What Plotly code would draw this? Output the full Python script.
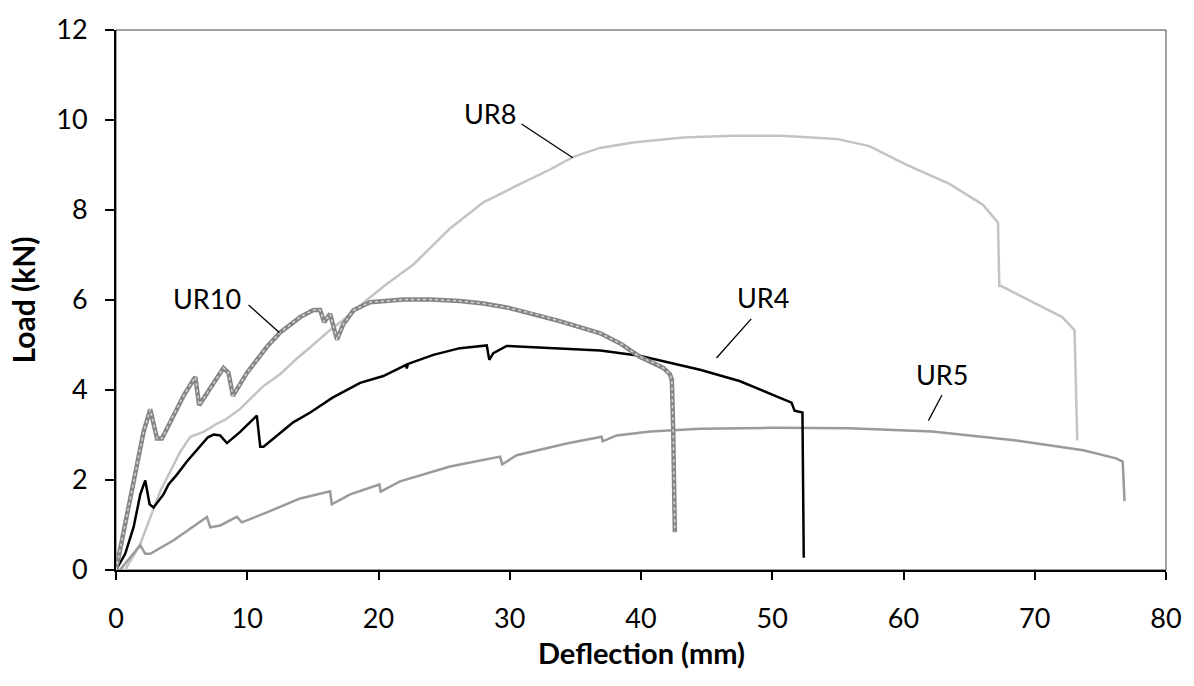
import plotly.graph_objects as go

# ---------------- data ----------------
ur4_x = [0, 0.7, 1.34, 1.72, 1.85, 2.23, 2.56, 2.86, 3.24, 3.62, 4.0, 4.64, 5.4, 6.42, 7.0, 7.43,
         7.94, 8.45, 9.46, 10.73, 10.99, 11.24, 12.5, 13.5, 14.8, 16.5, 18.6, 20.37, 22.1, 22.15,
         22.25, 24.18, 26.2, 28.25, 28.44, 28.75, 29.77, 33.8, 36.9, 39.9, 42.0, 44.5, 47.5, 49.3,
         51.47, 51.7, 52.3, 52.4]
ur4_y = [0, 0.36, 0.95, 1.46, 1.68, 1.99, 1.46, 1.39, 1.53, 1.68, 1.90, 2.12, 2.41, 2.77, 2.95, 3.01,
         2.99, 2.82, 3.07, 3.43, 2.74, 2.74, 3.03, 3.28, 3.50, 3.83, 4.16, 4.31, 4.56, 4.48,
         4.58, 4.78, 4.93, 4.99, 4.67, 4.82, 4.98, 4.93, 4.88, 4.76, 4.62, 4.45, 4.20, 3.98,
         3.72, 3.54, 3.50, 0.27]

ur5_x = [0.3, 1.0, 1.85, 2.23, 2.61, 4.39, 6.93, 7.18, 7.94, 9.21, 9.59, 11.5, 14.03, 16.31, 16.44,
         17.84, 20.07, 20.17, 21.64, 25.45, 29.26, 29.43, 30.53, 34.34, 37.0, 37.08, 38.14, 40.7,
         44.5, 50.0, 55.9, 62.2, 68.6, 73.7, 76.2, 76.7, 76.84]
ur5_y = [0, 0.25, 0.55, 0.36, 0.36, 0.66, 1.18, 0.95, 0.99, 1.18, 1.06, 1.28, 1.59, 1.75, 1.46,
         1.68, 1.90, 1.74, 1.97, 2.30, 2.52, 2.35, 2.55, 2.81, 2.96, 2.86, 2.99, 3.08,
         3.14, 3.16, 3.15, 3.08, 2.88, 2.66, 2.48, 2.41, 1.53]

ur8_x = [0.7, 1.85, 3.37, 4.9, 5.66, 6.67, 7.69, 8.32, 9.46, 11.24, 12.5, 13.78, 15.0, 16.3, 17.5,
         18.6, 20.6, 22.66, 25.45, 27.99, 30.53, 33.07, 34.84, 36.87, 39.4, 43.2, 47.0, 50.6, 52.1,
         54.9, 57.4, 60.2, 63.5, 66.05, 67.2, 67.3, 67.45, 70.1, 72.1, 73.03, 73.24]
ur8_y = [0, 0.58, 1.75, 2.63, 2.96, 3.07, 3.25, 3.34, 3.58, 4.09, 4.35, 4.70, 5.0, 5.33, 5.6,
         5.88, 6.35, 6.79, 7.59, 8.17, 8.54, 8.90, 9.18, 9.38, 9.50, 9.61, 9.65, 9.65, 9.63,
         9.58, 9.42, 9.01, 8.58, 8.12, 7.72, 6.31, 6.31, 5.91, 5.62, 5.33, 2.88]

ur10_x = [0, 0.6, 1.34, 2.1, 2.61, 2.9, 3.12, 3.5, 4.3, 5.2, 6.04, 6.34, 7.2, 8.19, 8.57, 8.91,
          9.97, 11.5, 12.51, 14.03, 15.04, 15.55, 15.86, 16.31, 16.84, 17.3, 18.09, 19.36, 21.9,
          24.0, 26.2, 28.0, 30.0, 32.0, 33.8, 36.9, 38.5, 39.9, 41.0, 41.7, 42.2, 42.35, 42.45, 42.58]
ur10_y = [0, 0.9, 1.97, 3.07, 3.57, 3.2, 2.92, 2.92, 3.4, 3.9, 4.29, 3.66, 4.05, 4.49, 4.38, 3.87,
          4.38, 4.96, 5.28, 5.62, 5.78, 5.78, 5.51, 5.69, 5.12, 5.45, 5.77, 5.95, 6.01,
          6.01, 5.98, 5.92, 5.82, 5.68, 5.53, 5.26, 5.02, 4.74, 4.6, 4.49, 4.35, 4.23, 3.14, 0.84]

x_ticks = [0, 10, 20, 30, 40, 50, 60, 70, 80]
y_ticks = [0, 2, 4, 6, 8, 10, 12]
x_title = "Deflection (mm)"
y_title = "Load (kN)"

# labels: text, text position, leader line start, leader line end
labels = [
    ("UR10", 6.93, 6.04, 10.1, 5.89, 12.46, 5.27),
    ("UR8", 28.5, 10.14, 30.9, 9.91, 34.8, 9.16),
    ("UR4", 49.3, 6.06, 48.4, 5.58, 45.75, 4.71),
    ("UR5", 62.9, 4.34, 62.93, 3.89, 61.9, 3.32),
]

FONT = "Lato, 'Open Sans', sans-serif"

fig = go.Figure()
fig.add_trace(go.Scatter(x=ur8_x, y=ur8_y, mode="lines", line=dict(color="#c3c3c3", width=2.5), name="UR8"))
fig.add_trace(go.Scatter(x=ur5_x, y=ur5_y, mode="lines", line=dict(color="#9a9a9a", width=2.5), name="UR5"))
fig.add_trace(go.Scatter(x=ur4_x, y=ur4_y, mode="lines", line=dict(color="#000000", width=2.5), name="UR4"))
fig.add_trace(go.Scatter(x=ur10_x, y=ur10_y, mode="lines", line=dict(color="#858585", width=4.5), name="UR10"))
fig.add_trace(go.Scatter(x=ur10_x, y=ur10_y, mode="lines",
                         line=dict(color="#d5d5d5", width=1.5, dash="dot"), name="UR10 pattern"))

for text, tx, ty, x0, y0, x1, y1 in labels:
    fig.add_annotation(x=tx, y=ty, text=text, showarrow=False,
                       font=dict(family=FONT, size=27, color="black"))
    fig.add_shape(type="line", x0=x0, y0=y0, x1=x1, y1=y1, xref="x", yref="y",
                  line=dict(color="black", width=1.3))

# x-axis title placed as an annotation below the tick labels
fig.add_annotation(x=0.5, y=-0.153, xref="x domain", yref="paper", yanchor="middle",
                   text="<b>" + x_title + "</b>", showarrow=False,
                   font=dict(family=FONT, size=29, color="black"))

# thin plot-area frame
fig.add_shape(type="rect", xref="x domain", yref="y domain", x0=0, y0=0, x1=1, y1=1,
              line=dict(color="#404040", width=1), layer="below")

fig.update_layout(
    width=1194, height=686,
    margin=dict(l=116, r=27, t=22, b=116),
    paper_bgcolor="white", plot_bgcolor="white",
    showlegend=False,
    font=dict(family=FONT, color="black"),
)
fig.update_xaxes(
    range=[0, 80], tickvals=x_ticks, ticktext=[str(v) for v in x_ticks],
    showgrid=False, zeroline=False,
    showline=True, linecolor="black", linewidth=2,
    ticks="outside", ticklen=8, tickwidth=1.5, tickcolor="black",
    tickfont=dict(family=FONT, size=27, color="black"), ticklabelstandoff=16,
)
fig.update_yaxes(
    range=[0, 12], tickvals=y_ticks, ticktext=[str(v) for v in y_ticks],
    showgrid=False, zeroline=False,
    showline=True, linecolor="black", linewidth=2,
    ticks="outside", ticklen=9, tickwidth=1.5, tickcolor="black",
    tickfont=dict(family=FONT, size=27, color="black"), ticklabelstandoff=12,
    title=dict(text="<b>" + y_title + "</b>", font=dict(family=FONT, size=30, color="black"), standoff=12),
)

fig.write_html("out.html", config={"displayModeBar": False},
               post_script="document.body.style.margin='0px';document.body.style.overflow='hidden';")
